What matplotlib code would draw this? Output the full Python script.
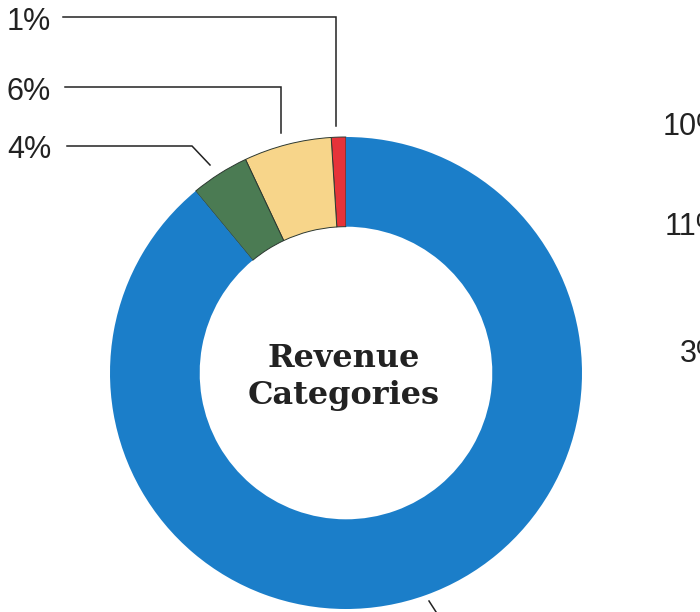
import matplotlib
matplotlib.use("Agg")
import matplotlib.pyplot as plt

# ---- data ----
categories = ["Red", "Yellow", "Green", "Blue"]
shares = [1, 6, 4, 89]
colors = ["#e63339", "#f7d58a", "#4b7b53", "#1b7ec9"]
left_labels = ["1%", "6%", "4%"]
right_labels = ["10%", "11%", "3%"]
center_title = ["Revenue", "Categories"]

W, H = 700, 612
fig = plt.figure(figsize=(W / 100, H / 100), dpi=100)
ax = fig.add_axes([0, 0, 1, 1])

def Y(py):
    return H - py

cx, cy, R = 346, Y(373), 236
width = 0.38
wedges, _ = ax.pie(shares, colors=colors, startangle=90, counterclock=True,
                   center=(cx, cy), radius=R, frame=True,
                   wedgeprops=dict(width=R * width, linewidth=0))
# thin dark separators on the small slices only
for w in wedges[:3]:
    w.set_edgecolor("#2c3830")
    w.set_linewidth(0.7)
ax.set_xlim(0, W)
ax.set_ylim(0, H)
ax.set_aspect("equal")
ax.axis("off")

# center text
ax.text(344, Y(367), center_title[0], ha="center", va="baseline",
        family="DejaVu Serif", weight="bold", fontsize=23, color="#222222")
ax.text(344, Y(404), center_title[1], ha="center", va="baseline",
        family="DejaVu Serif", weight="bold", fontsize=23, color="#222222")

# left labels with leader lines
lab_base = [30, 100, 158]
leaders = [
    [(63, 17), (336, 17), (336, 126)],
    [(65, 87), (281, 87), (281, 133)],
    [(67, 146), (192, 146), (210, 165)],
]
for txt, b, pts in zip(left_labels, lab_base, leaders):
    ax.text(7, Y(b), txt, ha="left", va="baseline", family="Liberation Sans",
            fontsize=22, color="#222222")
    xs = [p[0] for p in pts]
    ys = [Y(p[1]) for p in pts]
    ax.plot(xs, ys, color="#222222", lw=1.1, solid_joinstyle="miter")

# right labels (cut off by the page edge, as in the scanned original)
rx = [663, 665, 680]
rb = [135, 235, 362]
for txt, x, b in zip(right_labels, rx, rb):
    ax.text(x, Y(b), txt, ha="left", va="baseline", family="Liberation Sans",
            fontsize=22, color="#222222", clip_on=False)

# bottom leader stub
ax.plot([429, 438], [Y(601), Y(615)], color="#222222", lw=1.1)

fig.savefig("out.png", dpi=100)
